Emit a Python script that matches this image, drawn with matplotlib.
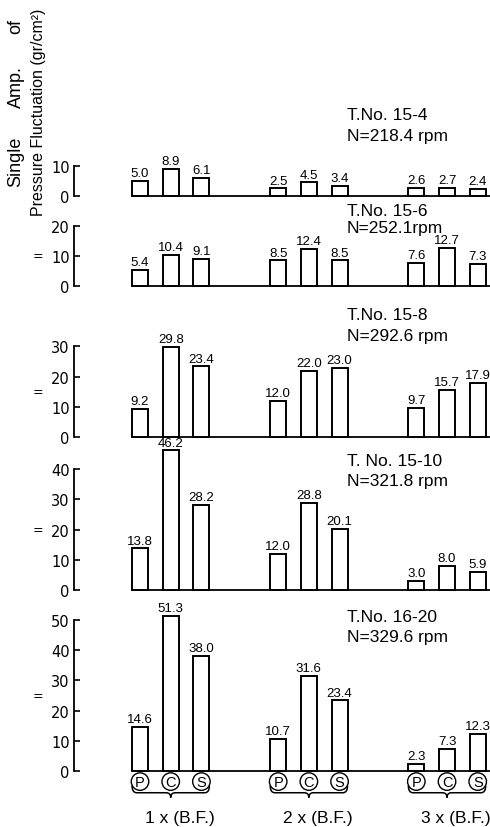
import matplotlib
matplotlib.use('Agg')
import matplotlib.pyplot as plt
from matplotlib.path import Path
from matplotlib.patches import PathPatch

# ---------------- data ----------------
components = ['P', 'C', 'S']
groups = ['1 x (B.F.)', '2 x (B.F.)', '3 x (B.F.)']
tests = ['T.No. 15-4', 'T.No. 15-6', 'T.No. 15-8', 'T. No. 15-10', 'T.No. 16-20']
speeds = ['N=218.4 rpm', 'N=252.1rpm', 'N=292.6 rpm', 'N=321.8 rpm', 'N=329.6 rpm']
amp_15_4 = [5.0, 8.9, 6.1, 2.5, 4.5, 3.4, 2.6, 2.7, 2.4]
amp_15_6 = [5.4, 10.4, 9.1, 8.5, 12.4, 8.5, 7.6, 12.7, 7.3]
amp_15_8 = [9.2, 29.8, 23.4, 12.0, 22.0, 23.0, 9.7, 15.7, 17.9]
amp_15_10 = [13.8, 46.2, 28.2, 12.0, 28.8, 20.1, 3.0, 8.0, 5.9]
amp_16_20 = [14.6, 51.3, 38.0, 10.7, 31.6, 23.4, 2.3, 7.3, 12.3]
panels = [amp_15_4, amp_15_6, amp_15_8, amp_15_10, amp_16_20]
axis_max = [10, 20, 30, 40, 50]
ylabel_words = ['of', 'Amp.', 'Single']
ylabel_line2 = 'Pressure Fluctuation (gr/cm²)'

# ---------------- layout ----------------
W, H = 490, 828
PXU = 3.02                      # pixels per unit of amplitude
baselines = [197, 287, 438, 591, 772]
LEFT = 74
XMIN, XMAX = -2.15, 11.4
GROUP_STEP = 4.5
BAR_W = 0.52
title_y = [(115, 136), (211, 228), (315, 337), (462, 482), (618, 638)]
word_y = [27, 87, 162]

FONT = ['Liberation Sans', 'DejaVu Sans']

fig = plt.figure(figsize=(W / 100, H / 100), dpi=100)

xpos = [g * GROUP_STEP + m for g in range(len(groups)) for m in range(len(components))]

axes = []
for i, vals in enumerate(panels):
    ymax = axis_max[i]
    base = baselines[i]
    ax = fig.add_axes([LEFT / W, (H - base) / H, (W - LEFT) / W, ymax * PXU / H])
    ax.patch.set_alpha(0)
    ax.set_xlim(XMIN, XMAX)
    ax.set_ylim(0, ymax)
    for s in ['top', 'right', 'bottom']:
        ax.spines[s].set_visible(False)
    ax.spines['left'].set_linewidth(1.3)
    ax.set_xticks([])
    ax.set_yticks(range(0, ymax + 1, 10))
    ax.tick_params(axis='y', direction='in', length=4, width=1.2, labelsize=10.5, pad=3)
    ax.bar(xpos, vals, width=BAR_W, color='white', edgecolor='black',
           linewidth=1.4, clip_on=False, zorder=3)
    ax.hlines(0, xpos[0] - BAR_W / 2, XMAX, color='black', linewidth=1.3, clip_on=False)
    for x, v in zip(xpos, vals):
        ax.text(x, v + 0.6, f'{v:.1f}', ha='center', va='bottom', fontsize=9.5,
                family=FONT, clip_on=False, zorder=4)
    # titles
    fig.text(347 / W, 1 - title_y[i][0] / H, tests[i], ha='left', va='center',
             fontsize=12.5, family=FONT)
    fig.text(347 / W, 1 - title_y[i][1] / H, speeds[i], ha='left', va='center',
             fontsize=12.5, family=FONT)
    if i > 0:
        mid = base - ymax * PXU / 2
        fig.text(38 / W, 1 - mid / H, '=', ha='center', va='center', fontsize=9)
    axes.append(ax)

# bottom component markers and group braces
axb = axes[-1]
for x, c in zip(xpos, components * len(groups)):
    axb.text(x, -3.5, c, ha='center', va='center', fontsize=10.5, family=FONT,
             bbox=dict(boxstyle='circle,pad=0.12', fc='white', ec='black', lw=1.0),
             clip_on=False, zorder=5)

for g, label in enumerate(groups):
    c = g * GROUP_STEP + 1
    L = c - 1 - BAR_W / 2
    R = c + 1 + BAR_W / 2
    yt, yh, ytip = -4.8, -7.2, -8.8
    verts = [(L, yt), (L, yh), (L + 0.15, yh),
             (c - 0.15, yh),
             (c, yh), (c, ytip),
             (c, yh), (c + 0.15, yh),
             (R - 0.15, yh),
             (R, yh), (R, yt)]
    codes = [Path.MOVETO, Path.CURVE3, Path.CURVE3,
             Path.LINETO,
             Path.CURVE3, Path.CURVE3,
             Path.CURVE3, Path.CURVE3,
             Path.LINETO,
             Path.CURVE3, Path.CURVE3]
    axb.add_patch(PathPatch(Path(verts, codes), fill=False, lw=1.1, ec='black',
                            clip_on=False, zorder=4))
    axb.text(c + 0.3, -15.4, label, ha='center', va='center', fontsize=12.5,
             family=FONT, clip_on=False)

# y label
for word, yy in zip(ylabel_words, word_y):
    fig.text(16 / W, 1 - yy / H, word, rotation=90, ha='center', va='center',
             fontsize=13, family=FONT)
fig.text(38 / W, 1 - 112 / H, ylabel_line2, rotation=90,
         ha='center', va='center', fontsize=11.5, family=FONT)

fig.savefig('out.png', dpi=100)
